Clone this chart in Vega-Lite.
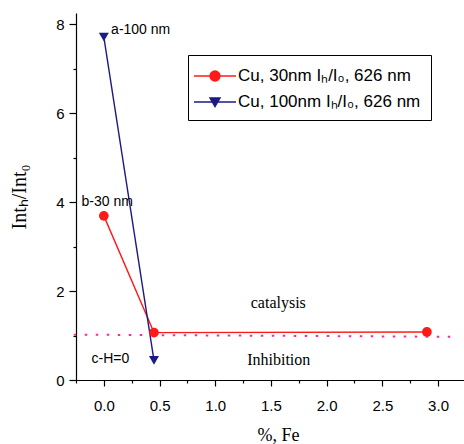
{
  "$schema": "https://vega.github.io/schema/vega-lite/v6.json",
  "autosize": "none",
  "width": 388,
  "height": 367,
  "padding": {"left": 76, "top": 13, "right": 0, "bottom": 64},
  "background": "white",
  "config": {
    "view": {"stroke": null},
    "axis": {
      "grid": false,
      "domainColor": "black",
      "tickColor": "black",
      "labelColor": "black",
      "titleColor": "black",
      "labelFont": "Liberation Sans",
      "labelFontSize": 15,
      "titleFont": "Liberation Serif",
      "titleFontWeight": "normal",
      "domainWidth": 1.2,
      "tickWidth": 1.2
    },
    "legend": {
      "orient": "none", "legendX": 112, "legendY": 42, "title": null,
      "strokeColor": "black", "fillColor": "white", "padding": 10,
      "symbolSize": 400, "symbolStrokeWidth": 1.4, "rowPadding": 7, "symbolOffset": 6, "labelOffset": 12,
      "labelFont": "Liberation Sans", "labelFontSize": 17, "labelColor": "black", "labelLimit": 0
    }
  },
  "datasets": {
    "series": [
      {"series": "Cu, 30nm Iₕ/I₀, 626 nm", "x": 0, "y": 3.69},
      {"series": "Cu, 30nm Iₕ/I₀, 626 nm", "x": 0.45, "y": 1.065},
      {"series": "Cu, 30nm Iₕ/I₀, 626 nm", "x": 2.9, "y": 1.08},
      {"series": "Cu, 100nm Iₕ/I₀, 626 nm", "x": 0, "y": 7.71},
      {"series": "Cu, 100nm Iₕ/I₀, 626 nm", "x": 0.45, "y": 0.44}
    ],
    "dotted": [
      {"x": -0.27, "y": 1.02},
      {"x": 3.15, "y": 0.97}
    ],
    "notes": [
      {"text": "a-100 nm", "x": 0.065, "y": 7.87},
      {"text": "b-30 nm", "x": -0.2, "y": 4.0},
      {"text": "c-H=0", "x": -0.11, "y": 0.47}
    ],
    "zones": [
      {"text": "catalysis", "x": 1.566, "y": 1.72},
      {"text": "Inhibition", "x": 1.57, "y": 0.45}
    ]
  },
  "encoding": {
    "x": {
      "field": "x", "type": "quantitative",
      "scale": {"domain": [-0.25, 3.233], "nice": false, "zero": false},
      "axis": {
        "title": "%, Fe",
        "titleFontSize": 18,
        "titleX": 202,
        "titleY": 60,
        "titleBaseline": "alphabetic",
        "values": [-0.25, 0, 0.25, 0.5, 0.75, 1, 1.25, 1.5, 1.75, 2, 2.25, 2.5, 2.75, 3],
        "labelExpr": "abs(datum.value*2 - round(datum.value*2)) > 0.01 ? '' : format(datum.value, '.1f')",
        "tickSize": {"condition": {"test": "abs(datum.value*2 - round(datum.value*2)) > 0.01", "value": 3}, "value": 6},
        "labelPadding": 12
      }
    },
    "y": {
      "field": "y", "type": "quantitative",
      "scale": {"domain": [0, 8.25], "nice": false},
      "axis": {
        "title": "Intₕ/Int₀",
        "titleFontSize": 20,
        "titlePadding": 26,
        "values": [0, 1, 2, 3, 4, 5, 6, 7, 8],
        "labelExpr": "datum.value % 2 == 1 ? '' : format(datum.value, 'd')",
        "tickSize": {"condition": {"test": "datum.value % 2 == 1", "value": 3}, "value": 7},
        "labelPadding": 5
      }
    }
  },
  "layer": [
    {
      "data": {"name": "dotted"},
      "mark": {"type": "line", "color": "#f0309a", "strokeWidth": 2, "strokeDash": [2.5, 8.5], "clip": false},
      "encoding": {}
    },
    {
      "data": {"name": "series"},
      "mark": {"type": "line", "strokeWidth": 1.4},
      "encoding": {
        "color": {
          "field": "series", "type": "nominal",
          "scale": {"domain": ["Cu, 30nm Iₕ/I₀, 626 nm", "Cu, 100nm Iₕ/I₀, 626 nm"], "range": ["#ff1a1a", "#1c1a84"]}
        }
      }
    },
    {
      "data": {"name": "series"},
      "transform": [{"filter": "indexof(datum.series, '30nm') >= 0"}],
      "mark": {"type": "point", "filled": true, "opacity": 1, "size": 95, "shape": "circle", "color": "#ff1a1a"}
    },
    {
      "data": {"name": "series"},
      "transform": [{"filter": "indexof(datum.series, '100nm') >= 0"}],
      "mark": {"type": "point", "filled": true, "opacity": 1, "size": 100, "shape": "triangle-down", "color": "#1c1a84"}
    },
    {
      "data": {"name": "series"},
      "transform": [{"filter": "datum.x > 100"}],
      "mark": {"type": "point", "filled": true, "opacity": 1},
      "encoding": {
        "color": {
          "field": "series", "type": "nominal",
          "scale": {"domain": ["Cu, 30nm Iₕ/I₀, 626 nm", "Cu, 100nm Iₕ/I₀, 626 nm"], "range": ["#ff1a1a", "#1c1a84"]}
        },
        "stroke": {
          "field": "series", "type": "nominal",
          "scale": {"domain": ["Cu, 30nm Iₕ/I₀, 626 nm", "Cu, 100nm Iₕ/I₀, 626 nm"], "range": ["#ff1a1a", "#1c1a84"]}
        },
        "shape": {
          "field": "series", "type": "nominal",
          "scale": {"domain": ["Cu, 30nm Iₕ/I₀, 626 nm", "Cu, 100nm Iₕ/I₀, 626 nm"], "range": ["M-2.1,0L2.1,0M0.5,0A0.5,0.5,0,1,1,-0.5,0A0.5,0.5,0,1,1,0.5,0Z", "M-2.1,0L2.1,0M-0.5,-0.4L0.5,-0.4L0,0.45Z"]}
        }
      }
    },
    {
      "data": {"name": "notes"},
      "mark": {"type": "text", "align": "left", "baseline": "middle", "font": "Liberation Sans", "fontSize": 14, "color": "black"},
      "encoding": {"text": {"field": "text"}}
    },
    {
      "data": {"name": "zones"},
      "mark": {"type": "text", "align": "center", "baseline": "middle", "font": "Liberation Serif", "fontSize": 16, "color": "black"},
      "encoding": {"text": {"field": "text"}}
    },
    {
      "mark": {"type": "rule", "color": "black", "strokeWidth": 1.2},
      "encoding": {"y": {"datum": 8.25}}
    }
  ]
}
